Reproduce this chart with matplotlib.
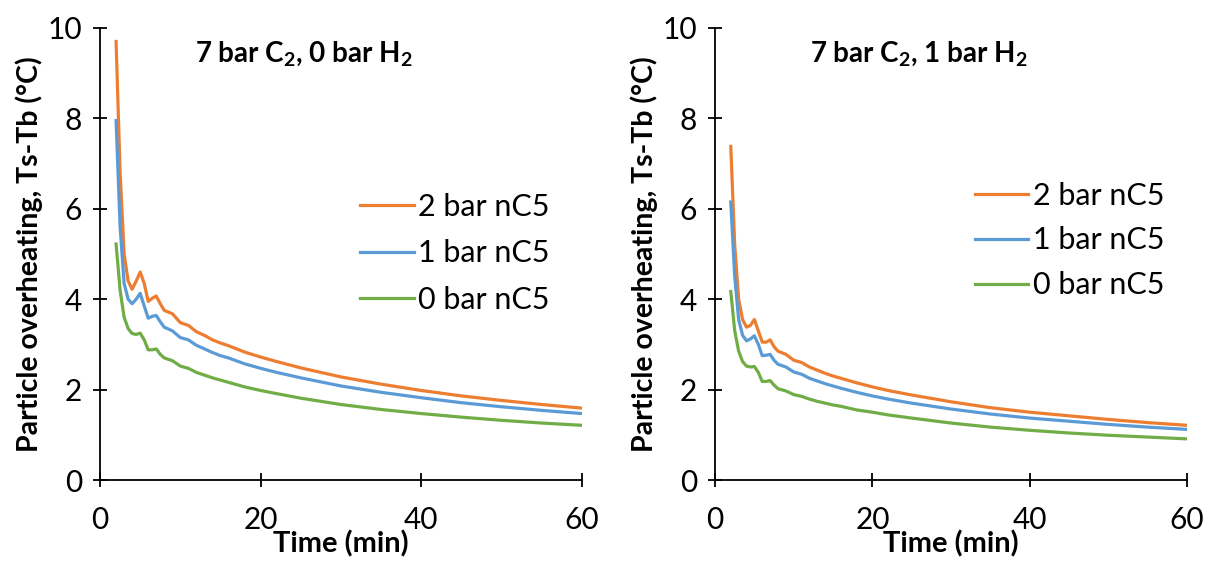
import matplotlib
matplotlib.use("Agg")
import matplotlib.pyplot as plt

plt.rcParams['font.family'] = ['Lato', 'DejaVu Sans']
plt.rcParams['mathtext.fontset'] = 'custom'
plt.rcParams['mathtext.bf'] = 'Lato:bold'
plt.rcParams['mathtext.rm'] = 'Lato:bold'
plt.rcParams['mathtext.default'] = 'bf'

# time axis (min)
time = [2, 2.5, 3, 3.5, 4, 4.5, 5, 5.5, 6, 6.5, 7, 7.5, 8, 9, 10, 11, 12,
        13, 14, 15, 16, 18, 20, 22, 25, 30, 35, 40, 45, 50, 55, 60]

# 7 bar C2, 0 bar H2
left_2bar = [9.7, 6.8, 5.0, 4.4, 4.22, 4.4, 4.6, 4.35, 3.95, 4.02, 4.07, 3.9,
             3.75, 3.68, 3.48, 3.42, 3.28, 3.2, 3.1, 3.03, 2.97, 2.83, 2.72,
             2.62, 2.48, 2.28, 2.12, 1.98, 1.86, 1.76, 1.67, 1.59]
left_1bar = [7.95, 5.6, 4.35, 4.0, 3.9, 4.0, 4.13, 3.85, 3.58, 3.62, 3.64, 3.5,
             3.38, 3.3, 3.15, 3.1, 2.98, 2.9, 2.82, 2.75, 2.7, 2.57, 2.47,
             2.38, 2.26, 2.08, 1.94, 1.82, 1.71, 1.62, 1.54, 1.47]
left_0bar = [5.22, 4.2, 3.6, 3.35, 3.24, 3.22, 3.25, 3.1, 2.88, 2.88, 2.9, 2.78,
             2.7, 2.64, 2.52, 2.47, 2.38, 2.32, 2.26, 2.21, 2.16, 2.06, 1.98,
             1.91, 1.81, 1.67, 1.56, 1.47, 1.39, 1.32, 1.26, 1.21]

# 7 bar C2, 1 bar H2
right_2bar = [7.38, 5.2, 4.0, 3.55, 3.38, 3.42, 3.55, 3.3, 3.05, 3.05, 3.1, 2.95,
              2.85, 2.78, 2.65, 2.6, 2.5, 2.43, 2.36, 2.3, 2.25, 2.15, 2.06,
              1.98, 1.88, 1.73, 1.6, 1.5, 1.42, 1.34, 1.27, 1.21]
right_1bar = [6.15, 4.5, 3.55, 3.2, 3.08, 3.12, 3.19, 3.0, 2.75, 2.76, 2.78, 2.65,
              2.56, 2.5, 2.39, 2.34, 2.25, 2.19, 2.13, 2.08, 2.03, 1.94, 1.86,
              1.79, 1.7, 1.57, 1.46, 1.37, 1.3, 1.23, 1.17, 1.12]
right_0bar = [4.17, 3.3, 2.85, 2.62, 2.52, 2.5, 2.51, 2.38, 2.18, 2.18, 2.2, 2.1,
              2.02, 1.97, 1.89, 1.85, 1.79, 1.74, 1.7, 1.66, 1.63, 1.55, 1.5,
              1.44, 1.37, 1.26, 1.17, 1.1, 1.04, 0.99, 0.95, 0.91]

labels = ["2 bar nC5", "1 bar nC5", "0 bar nC5"]
colors = ["#ED7D31", "#5B9BD5", "#70AD47"]
titles = [r"7 bar C$_{2}$, 0 bar H$_{2}$", r"7 bar C$_{2}$, 1 bar H$_{2}$"]

fig = plt.figure(figsize=(12.05, 5.63), dpi=100)
axes = [fig.add_axes([0.083, 0.1474, 0.4, 0.803]),
        fig.add_axes([0.5934, 0.1474, 0.3917, 0.803])]

panels = [(left_2bar, left_1bar, left_0bar), (right_2bar, right_1bar, right_0bar)]
legend_pos = [(0.54, 0.635), (0.55, 0.66)]
label_gap = [0.6, 0.55]
title_pos = [(0.197, 0.975), (0.201, 0.975)]

for ax, series, title, lpos, gap, tpos in zip(axes, panels, titles, legend_pos,
                                             label_gap, title_pos):
    for vals, lab, col in zip(series, labels, colors):
        ax.plot(time, vals, color=col, lw=2.3, label=lab)
    ax.set_xlim(0, 60)
    ax.set_ylim(0, 10)
    ax.set_xticks([0, 20, 40, 60])
    ax.set_yticks(range(0, 11, 2))
    for s in ["top", "right"]:
        ax.spines[s].set_visible(False)
    for s in ["left", "bottom"]:
        ax.spines[s].set_linewidth(1.3)
    ax.tick_params(direction="inout", length=10, width=1.3, labelsize=21.5)
    ax.tick_params(axis="x", pad=14)
    ax.tick_params(axis="y", pad=8)
    ax.set_xlabel("Time (min)", fontsize=21, fontweight="bold", labelpad=-3)
    ax.set_ylabel("Particle overheating, Ts-Tb (°C)", fontsize=20.5,
                  fontweight="bold", labelpad=3)
    ax.text(tpos[0], tpos[1], title, transform=ax.transAxes, fontsize=20,
            fontweight="bold", va="top")
    ax.legend(loc="upper left", bbox_to_anchor=lpos, frameon=False,
              fontsize=22, handlelength=1.75, handletextpad=0.15,
              labelspacing=gap, borderaxespad=0, borderpad=0)
    ax.patch.set_alpha(0)

fig.savefig("out.png", dpi=100)
